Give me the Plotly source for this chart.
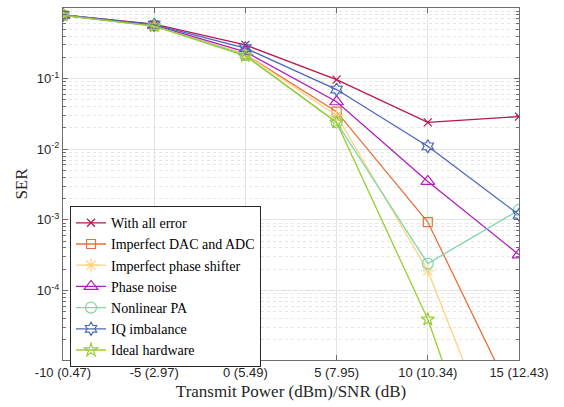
import plotly.graph_objects as go

x_vals = [-10, -5, 0, 5, 10, 15]
x_labels = ["-10 (0.47)", "-5 (2.97)", "0 (5.49)", "5 (7.95)", "10 (10.34)", "15 (12.43)"]

all_err = [0.80, 0.59, 0.30, 0.097, 0.024, 0.029]
dac_adc = [0.79, 0.56, 0.22, 0.034, 0.00093, 2.0e-6]
phase_shifter = [0.79, 0.56, 0.22, 0.030, 0.00019, 1.0e-7]
phase_noise = [0.79, 0.57, 0.24, 0.047, 0.0035, 0.00032]
nonlinear_pa = [0.79, 0.56, 0.215, 0.024, 0.00024, 0.00138]
iq_imb = [0.80, 0.58, 0.27, 0.070, 0.011, 0.00118]
ideal = [0.79, 0.555, 0.21, 0.024, 3.9e-5, 8e-9]

series = [
    ("With all error", all_err, "#B5174E", "x-thin-open", 8),
    ("Imperfect DAC and ADC", dac_adc, "#E8703A", "square-open", 9),
    ("Imperfect phase shifter", phase_shifter, "#FFD27F", "asterisk-open", 11),
    ("Phase noise", phase_noise, "#B01EBA", "triangle-up-open", 12),
    ("Nonlinear PA", nonlinear_pa, "#7FD6A6", "circle-open", 11),
    ("IQ imbalance", iq_imb, "#4A68BA", "hexagram-open", 10),
    ("Ideal hardware", ideal, "#9ACD32", "star-open", 10),
]

fig = go.Figure()
for name, ys, color, sym, size in series:
    fig.add_trace(go.Scatter(
        x=x_vals, y=ys, name=name, mode="lines+markers",
        line=dict(color=color, width=1.3),
        marker=dict(symbol=sym, size=size, color=color, line=dict(color=color, width=1.2)),
    ))

y_major = [1, 0.1, 0.01, 0.001, 0.0001]
y_major_text = ["10<sup>0</sup>", "10<sup>-1</sup>", "10<sup>-2</sup>", "10<sup>-3</sup>", "10<sup>-4</sup>"]
y_minor = [m * 10.0 ** e for e in range(-5, 0) for m in range(2, 10)]

axis_col = "#6e6e6e"
fig.update_layout(
    width=564, height=407,
    margin=dict(l=63, r=45, t=8, b=47),
    paper_bgcolor="white", plot_bgcolor="white",
    showlegend=True,
    legend=dict(
        x=0.0154, y=0.437, xanchor="left", yanchor="top",
        bgcolor="white", bordercolor="#262626", borderwidth=1,
        font=dict(family="Liberation Serif", size=14, color="black"),
        tracegroupgap=0, itemwidth=30,
    ),
    xaxis=dict(
        range=[-10, 15], tickmode="array", tickvals=x_vals, ticktext=x_labels,
        ticks="inside", ticklen=5, tickcolor=axis_col,
        showline=True, linecolor=axis_col, linewidth=1, mirror="allticks",
        showgrid=True, gridcolor="#e3e3e3", gridwidth=1, zeroline=False,
        tickfont=dict(family="Liberation Sans", size=13, color="#262626"),
        title=dict(text="Transmit Power (dBm)/SNR (dB)", standoff=6,
                   font=dict(family="Liberation Serif", size=17, color="#262626")),
    ),
    yaxis=dict(
        type="log", range=[-4.985, 0],
        tickmode="array", tickvals=y_major, ticktext=y_major_text,
        ticks="inside", ticklen=5, tickcolor=axis_col,
        showline=True, linecolor=axis_col, linewidth=1, mirror="allticks",
        showgrid=True, gridcolor="#e3e3e3", gridwidth=1, zeroline=False,
        tickfont=dict(family="Liberation Sans", size=13, color="#262626"),
        minor=dict(tickmode="array", tickvals=y_minor, ticks="inside", ticklen=3,
                   tickcolor=axis_col, showgrid=True, gridcolor="#e6e6e6",
                   griddash="dot", gridwidth=1),
        title=dict(text="SER", standoff=4,
                   font=dict(family="Liberation Serif", size=17, color="#262626")),
    ),
)

fig.write_html("out.html")
